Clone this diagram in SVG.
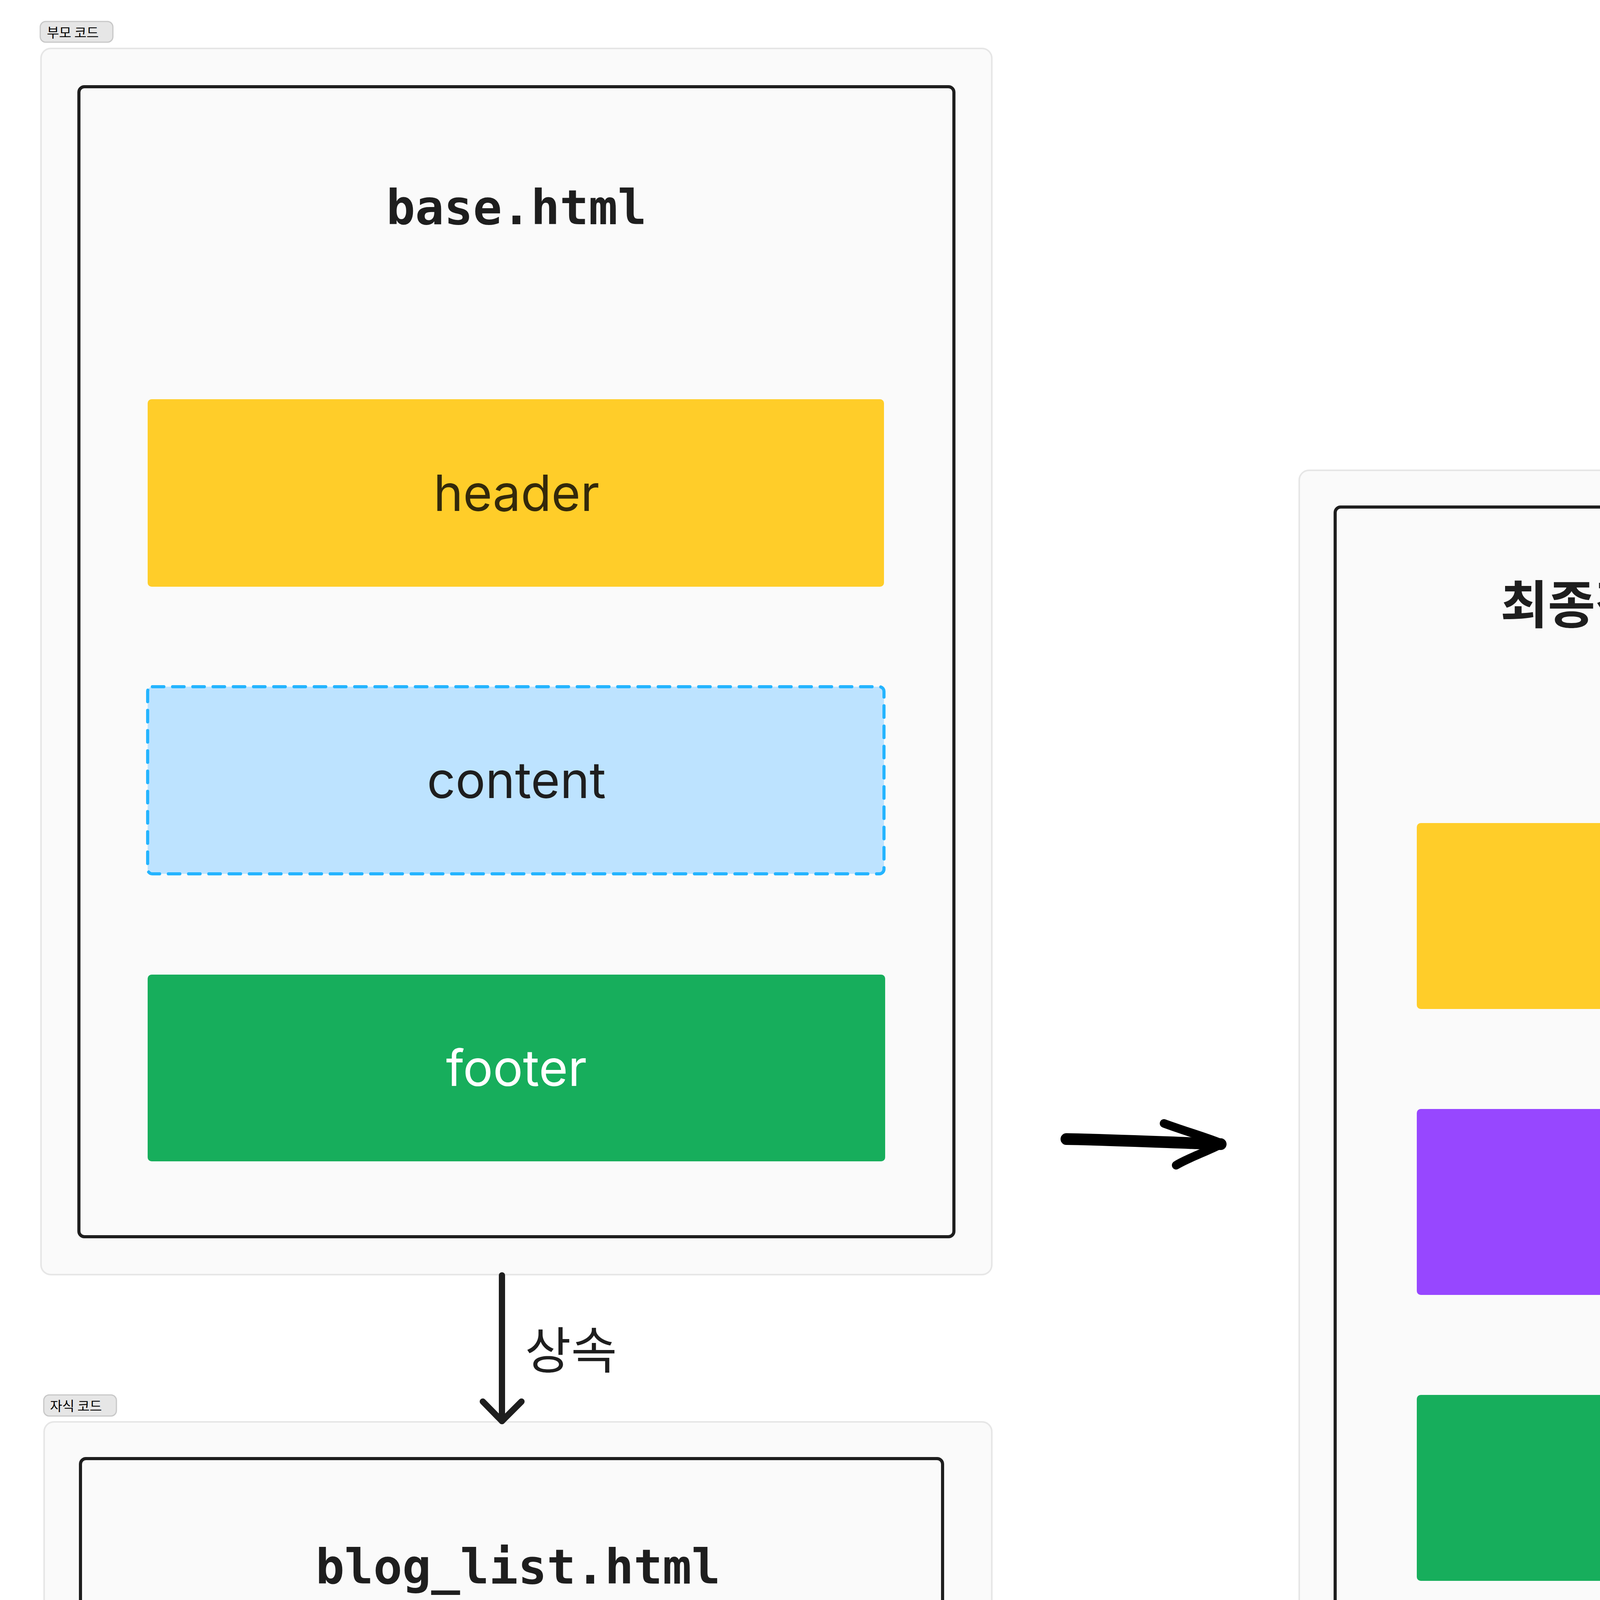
<svg xmlns="http://www.w3.org/2000/svg" width="5857" height="5099" viewBox="0 0 5857 5099">
<style>
.outer{fill:#fafafa;stroke:#e6e6e6;stroke-width:4}
.frame{fill:#fafafa;stroke:#1e1e1e;stroke-width:8}
.badge{fill:#e6e6e6;stroke:#c8c8c8;stroke-width:3}
.badge-t{font-family:"Noto Sans CJK KR","Noto Sans",sans-serif;font-size:34px;fill:#000}
.mono{font-family:"DejaVu Sans Mono","Liberation Mono",monospace;font-weight:bold;font-size:123px;fill:#1e1e1e;text-anchor:middle}
.title-kr{font-family:"Noto Sans CJK KR",sans-serif;font-weight:bold;font-size:132px;fill:#1e1e1e;text-anchor:middle;dominant-baseline:central}
.lbl{font-family:Inter,"Liberation Sans",sans-serif;font-size:128px;text-anchor:middle}
.yellow{fill:#ffcd29}
.green{fill:#17ae5c}
.purple{fill:#9747ff}
.lblue{fill:#bde3ff;stroke:#24b4ff;stroke-width:8;stroke-dasharray:29.5 22.3;stroke-linecap:round}
.conn{fill:none;stroke:#1e1e1e;stroke-linecap:round;stroke-linejoin:round}
</style>

<g id="parent-section">
  <rect class="badge" x="103" y="55" width="186" height="53" rx="14"/>
  <text class="badge-t" x="120" y="96">부모 코드</text>
  <rect class="outer" x="105" y="124" width="2434" height="3139" rx="25"/>
</g>

<g id="base-html">
  <rect class="frame" x="202" y="222" width="2240" height="2944" rx="14"/>
  <text class="mono" x="1322" y="574">base.html</text>
</g>

<g id="base-header">
  <rect class="yellow" x="378" y="1022" width="1885" height="480" rx="10"/>
  <text class="lbl" x="1322" y="1308" fill="#33290b">header</text>
</g>

<g id="base-content">
  <rect class="lblue" x="378" y="1758" width="1885" height="479" rx="12"/>
  <text class="lbl" x="1322" y="2043" fill="#1e1e1e">content</text>
</g>

<g id="base-footer">
  <rect class="green" x="378" y="2495" width="1888" height="478" rx="10"/>
  <text class="lbl" x="1322" y="2780" fill="#ffffff">footer</text>
</g>

<g id="child-section">
  <rect class="badge" x="112" y="3571" width="186" height="54" rx="14"/>
  <text class="badge-t" x="128" y="3612">자식 코드</text>
  <rect class="outer" x="113" y="3640" width="2426" height="1329" rx="25"/>
</g>

<g id="blog-list-html">
  <rect class="frame" x="206" y="3734" width="2207" height="1144" rx="14"/>
  <text class="mono" x="1326" y="4054">blog_list.html</text>
</g>

<g id="child-content">
  <rect class="purple" x="381" y="4273" width="1886" height="478" rx="10"/>
  <text class="lbl" x="1324" y="4558" fill="#ffffff">content</text>
</g>

<g id="result-section">
  <rect class="outer" x="3326" y="1204" width="2427" height="3127" rx="25"/>
</g>

<g id="result-template">
  <rect class="frame" x="3418" y="1298" width="2242" height="2941" rx="14"/>
  <text class="title-kr" x="4539" y="1538">최종적으로 보이는 템플릿</text>
</g>

<g id="result-header">
  <rect class="yellow" x="3627" y="2107" width="1886" height="476" rx="10"/>
  <text class="lbl" x="4572" y="2391" fill="#33290b">header</text>
</g>

<g id="result-content">
  <rect class="purple" x="3627" y="2839" width="1886" height="476" rx="10"/>
  <text class="lbl" x="4572" y="3123" fill="#ffffff">content</text>
</g>

<g id="result-footer">
  <rect class="green" x="3627" y="3571" width="1886" height="476" rx="10"/>
  <text class="lbl" x="4572" y="3855" fill="#ffffff">footer</text>
</g>

<g id="connectors">
  <path class="conn" stroke-width="16" d="M1285,3265 L1285,3638"/>
  <path class="conn" stroke-width="16" d="M1236,3588 L1285,3638 L1335,3588"/>
  <text x="1344" y="3448" style="font-family:'Noto Sans CJK KR',sans-serif;font-size:128px;fill:#1e1e1e;dominant-baseline:central">상속</text>
  <path fill="none" stroke="#000" stroke-width="30" stroke-linecap="round" d="M2730,2916 C2850,2918 3000,2925 3125,2929"/>
  <path fill="none" stroke="#000" stroke-width="22" stroke-linecap="round" stroke-linejoin="round" d="M2980,2876 C3040,2898 3100,2915 3128,2928 C3090,2948 3040,2965 3011,2983"/>
</g>
</svg>
